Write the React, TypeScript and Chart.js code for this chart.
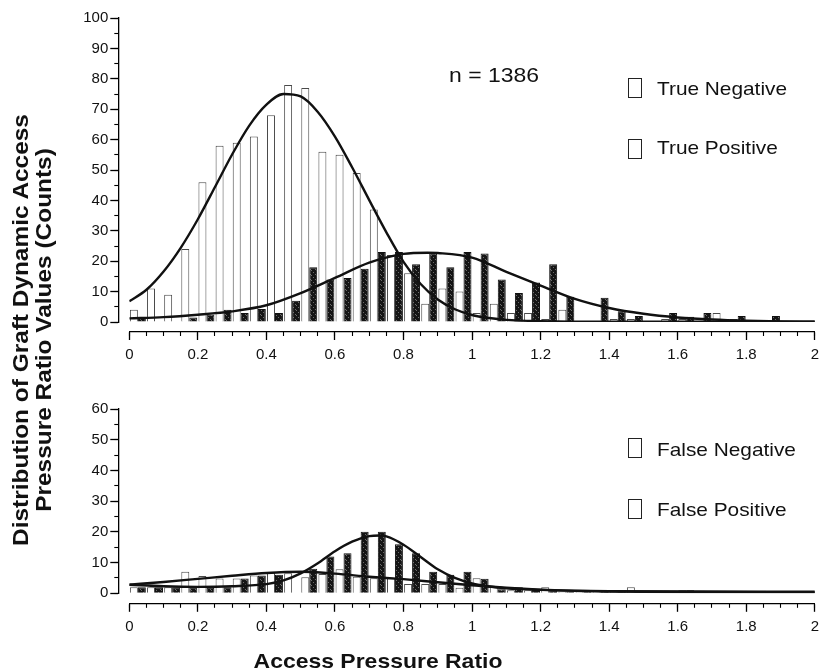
import React, { useEffect, useRef } from "react";
import { Chart, registerables } from "chart.js";

Chart.register(...registerables);

const FONT = '"Liberation Sans", Arial, Helvetica, sans-serif';

// ---- data ----
const binCenters = [
  0.025, 0.075, 0.125, 0.175, 0.225, 0.275, 0.325, 0.375, 0.425, 0.475,
  0.525, 0.575, 0.625, 0.675, 0.725, 0.775, 0.825, 0.875, 0.925, 0.975,
  1.025, 1.075, 1.125, 1.175, 1.225, 1.275, 1.325, 1.375, 1.425, 1.475,
  1.525, 1.575, 1.625, 1.675, 1.725, 1.775, 1.825, 1.875, 1.925, 1.975,
];

const trueNegative = [
  4, 11, 9, 24, 46, 58, 59, 61, 68, 78,
  77, 56, 55, 49, 37, 22, 16, 6, 11, 10,
  3, 6, 3, 3, 1, 4, 0, 0, 1, 1,
  0, 1, 1, 0, 3, 1, 0, 0, 0, 0,
];
const truePositive = [
  1.5, 0, 0, 1.5, 2.5, 4, 3, 4.3, 3, 7,
  18, 14, 14.5, 17.5, 23, 23, 19, 22.5, 18, 23,
  22.5, 14, 9.5, 13, 19, 8.3, 0, 8, 3.5, 2,
  0, 3, 1.7, 3, 0, 2, 0, 2, 0, 0,
];
const falseNegative = [
  2, 2, 2, 7, 5.6, 4.8, 4.8, 5.8, 6.8, 6.5,
  5.2, 6.3, 7.8, 5.4, 4.9, 4.9, 3, 3, 3, 1.8,
  4.9, 2.2, 1, 1, 2, 0.5, 0.5, 1, 0.5, 2,
  0.5, 0.5, 1, 0, 0, 0, 0.5, 0, 0, 0,
];
const falsePositive = [
  2, 2, 2, 2, 1.8, 2, 4.8, 5.8, 6, 0,
  8, 12, 13, 20, 20, 16, 13, 7, 6, 7,
  4.7, 1.3, 2, 1.5, 1, 0.5, 0.5, 0.5, 0.5, 0.5,
  0.5, 0.5, 1, 0.5, 0, 0, 0, 0, 0, 0,
];

// fitted curves
const tnFitX = [0, 0.05, 0.1, 0.15, 0.2, 0.25, 0.3, 0.35, 0.4, 0.45, 0.5, 0.55, 0.6, 0.65, 0.7, 0.75, 0.8, 0.85, 0.9, 0.95, 1.0, 1.05, 1.1, 1.2, 1.4, 2.0];
const tnFitY = [6.8, 10.6, 16.6, 24.4, 33.8, 44.4, 55.1, 64.6, 71.5, 75, 74.2, 69.1, 61.0, 50.9, 40.1, 29.5, 19.8, 12.5, 7.4, 4.2, 2.3, 1.3, 0.7, 0.3, 0.1, 0.1];
const tpFitX = [0, 0.1, 0.2, 0.3, 0.4, 0.5, 0.6, 0.7, 0.8, 0.87, 0.9, 1.0, 1.1, 1.2, 1.3, 1.4, 1.5, 1.6, 1.7, 1.8, 1.9, 2.0];
const tpFitY = [1.2, 1.6, 2.4, 3.5, 5.5, 9.5, 14.5, 19.5, 22.4, 22.8, 22.7, 21.2, 16.5, 12, 7.6, 4.6, 2.7, 1.5, 0.8, 0.4, 0.2, 0.1];
const fnFitX = [0, 0.1, 0.2, 0.3, 0.4, 0.5, 0.6, 0.7, 0.8, 0.9, 1.0, 1.1, 1.2, 1.3, 1.4, 1.6, 2.0];
const fnFitY = [2.8, 3.7, 4.7, 5.7, 6.6, 7.0, 6.4, 5.4, 4.6, 3.6, 2.6, 1.8, 1.2, 0.8, 0.6, 0.4, 0.3];
const fpFitX = [0, 0.1, 0.2, 0.3, 0.4, 0.45, 0.5, 0.55, 0.6, 0.65, 0.7, 0.73, 0.75, 0.8, 0.85, 0.9, 0.95, 1.0, 1.05, 1.1, 1.2, 1.4, 2.0];
const fpFitY = [2.8, 2.3, 2.1, 2.3, 3.0, 4.2, 6.5, 9.8, 13.7, 16.8, 18.6, 18.8, 18.5, 15.8, 11.8, 7.8, 5, 3.2, 2.2, 1.6, 1.1, 0.7, 0.5];

const xTickValues = [0, 0.2, 0.4, 0.6, 0.8, 1, 1.2, 1.4, 1.6, 1.8, 2];
const xTickLabels = ["0", "0.2", "0.4", "0.6", "0.8", "1", "1.2", "1.4", "1.6", "1.8", "2"];
const topYTicks = [0, 10, 20, 30, 40, 50, 60, 70, 80, 90, 100];
const bottomYTicks = [0, 10, 20, 30, 40, 50, 60];

const legendTop = ["True Negative", "True Positive"];
const legendBottom = ["False Negative", "False Positive"];

function minorTicks(max: number, step: number) {
  const out: number[] = [];
  const n = Math.round(max / step);
  for (let i = 0; i <= n; i++) out.push(+(i * step).toFixed(4));
  return out;
}

function makePattern(): CanvasPattern | string {
  const p = document.createElement("canvas");
  p.width = 5;
  p.height = 5;
  const g = p.getContext("2d");
  if (!g) return "#1a1a1a";
  g.fillStyle = "#151515";
  g.fillRect(0, 0, 5, 5);
  g.fillStyle = "#6e6e6e";
  g.fillRect(1, 0, 1, 1);
  g.fillRect(3, 2, 1, 1);
  g.fillRect(0, 4, 1, 1);
  const pat = g.createPattern(p, "repeat");
  return pat || "#1a1a1a";
}

function detachPlugin(gapY: number, gapX: number) {
  return {
    id: "detachAxes",
    afterLayout(chart: any) {
      const ca = chart.chartArea;
      Object.values(chart.scales).forEach((s: any) => {
        if (s.axis === "y") {
          const w = s.width;
          s.right = ca.left - gapY;
          s.left = s.right - w;
        } else {
          const h = s.height;
          s.top = ca.bottom + gapX;
          s.bottom = s.top + h;
        }
      });
    },
  };
}

interface Cfg {
  negVals: number[];
  posVals: number[];
  negFitX: number[];
  negFitY: number[];
  posFitX: number[];
  posFitY: number[];
  yMax: number;
  yTicks: number[];
  padding: { left: number; right: number; top: number; bottom: number };
  gapY: number;
  gapX: number;
}

function buildChart(canvas: HTMLCanvasElement, c: Cfg) {
  const toPts = (vals: number[]) =>
    binCenters.map((x, i) => ({ x, y: vals[i] > 0 ? vals[i] : null }));
  const fitPts = (xs: number[], ys: number[]) => xs.map((x, i) => ({ x, y: ys[i] }));
  const pattern = makePattern();
  const tickFont = { family: FONT, size: 15 };
  const lineDs = (data: any[]) => ({
    type: "line" as const,
    data,
    borderColor: "#111",
    borderWidth: 2.4,
    pointRadius: 0,
    tension: 0.4,
    cubicInterpolationMode: "monotone" as const,
    fill: false,
    order: 0,
    xAxisID: "x",
    yAxisID: "y",
  });
  const yMinorVals = minorTicks(c.yMax, 5);
  const xMinorVals = minorTicks(2, 0.05);

  return new Chart(canvas, {
    type: "bar",
    data: {
      datasets: [
        lineDs(fitPts(c.negFitX, c.negFitY)),
        lineDs(fitPts(c.posFitX, c.posFitY)),
        {
          type: "bar",
          data: toPts(c.negVals),
          backgroundColor: "#ffffff",
          borderColor: "#4a4a4a",
          borderWidth: 1,
          categoryPercentage: 0.93,
          barPercentage: 1,
          order: 1,
          xAxisID: "x",
          yAxisID: "y",
        },
        {
          type: "bar",
          data: toPts(c.posVals),
          backgroundColor: pattern as any,
          borderColor: "#111",
          borderWidth: 1,
          categoryPercentage: 0.93,
          barPercentage: 1,
          order: 1,
          xAxisID: "x",
          yAxisID: "y",
        },
      ] as any,
    },
    options: {
      animation: false,
      responsive: false,
      events: [],
      layout: { padding: c.padding },
      plugins: {
        legend: { display: false },
        tooltip: { enabled: false },
        title: { display: false },
      },
      scales: {
        x: {
          type: "linear",
          axis: "x",
          position: "bottom",
          min: 0,
          max: 2,
          offset: false,
          grid: { offset: false, drawOnChartArea: false, drawTicks: true, tickLength: 8, color: "#000", tickWidth: 1.3 },
          border: { display: true, color: "#000", width: 1.3 },
          ticks: {
            autoSkip: false,
            maxRotation: 0,
            minRotation: 0,
            padding: 6,
            color: "#111",
            font: tickFont,
            callback: (_v: any, i: number) => xTickLabels[i] ?? "",
          },
          afterBuildTicks: (s: any) => {
            s.ticks = xTickValues.map((v) => ({ value: v }));
          },
          afterFit: (s: any) => {
            s.height = 30;
          },
        },
        xMinor: {
          type: "linear",
          axis: "x",
          position: "bottom",
          min: 0,
          max: 2,
          offset: false,
          grid: { offset: false, drawOnChartArea: false, drawTicks: true, tickLength: 4, color: "#000", tickWidth: 1.1 },
          border: { display: false },
          ticks: { display: false },
          afterBuildTicks: (s: any) => {
            s.ticks = xMinorVals.map((v) => ({ value: v }));
          },
          afterFit: (s: any) => {
            s.height = 0;
          },
        },
        y: {
          type: "linear",
          axis: "y",
          position: "left",
          min: 0,
          max: c.yMax,
          grid: { drawOnChartArea: false, drawTicks: true, tickLength: 8, color: "#000", tickWidth: 1.3 },
          border: { display: true, color: "#000", width: 1.3 },
          ticks: {
            padding: 2,
            color: "#111",
            font: tickFont,
            callback: (v: any) => String(v),
          },
          afterBuildTicks: (s: any) => {
            s.ticks = c.yTicks.map((v) => ({ value: v }));
          },
          afterFit: (s: any) => {
            s.width = 40;
          },
        },
        yMinor: {
          type: "linear",
          axis: "y",
          position: "left",
          min: 0,
          max: c.yMax,
          grid: { drawOnChartArea: false, drawTicks: true, tickLength: 4, color: "#000", tickWidth: 1.1 },
          border: { display: false },
          ticks: { display: false },
          afterBuildTicks: (s: any) => {
            s.ticks = yMinorVals.map((v) => ({ value: v }));
          },
          afterFit: (s: any) => {
            s.width = 0;
          },
        },
      } as any,
    },
    plugins: [detachPlugin(c.gapY, c.gapX)],
  });
}

const SX = "scaleX(1.12)";

function Text(props: { left: number; top: number; size: number; bold?: boolean; children: React.ReactNode }) {
  return (
    <div
      style={{
        position: "absolute",
        left: props.left,
        top: props.top,
        fontFamily: FONT,
        fontSize: props.size,
        fontWeight: props.bold ? 700 : 400,
        lineHeight: `${props.size}px`,
        whiteSpace: "nowrap",
        transform: SX,
        transformOrigin: "left center",
        color: "#111",
      }}
    >
      {props.children}
    </div>
  );
}

function Box(props: { left: number; top: number }) {
  return (
    <div
      style={{
        position: "absolute",
        left: props.left,
        top: props.top,
        width: 14,
        height: 20,
        boxSizing: "border-box",
        border: "1.3px solid #222",
        background: "#fff",
      }}
    />
  );
}

export default function App() {
  const topRef = useRef<HTMLCanvasElement>(null);
  const botRef = useRef<HTMLCanvasElement>(null);

  useEffect(() => {
    const c1 = buildChart(topRef.current!, {
      negVals: trueNegative,
      posVals: truePositive,
      negFitX: tnFitX,
      negFitY: tnFitY,
      posFitX: tpFitX,
      posFitY: tpFitY,
      yMax: 100,
      yTicks: topYTicks,
      padding: { left: 89.3, right: 7.7, top: 18, bottom: 18 },
      gapY: 11,
      gapX: 10,
    });
    const c2 = buildChart(botRef.current!, {
      negVals: falseNegative,
      posVals: falsePositive,
      negFitX: fnFitX,
      negFitY: fnFitY,
      posFitX: fpFitX,
      posFitY: fpFitY,
      yMax: 60,
      yTicks: bottomYTicks,
      padding: { left: 89.3, right: 7.7, top: 39, bottom: 47.7 },
      gapY: 11,
      gapX: 10.5,
    });
    return () => {
      c1.destroy();
      c2.destroy();
    };
  }, []);

  return (
    <div
      style={{
        position: "fixed",
        left: 0,
        top: 0,
        width: 825,
        height: 671,
        background: "#fff",
        overflow: "hidden",
      }}
    >
      <canvas
        ref={topRef}
        width={825}
        height={370}
        style={{ position: "absolute", left: 0, top: 0, width: 825, height: 370 }}
      />
      <canvas
        ref={botRef}
        width={825}
        height={301}
        style={{ position: "absolute", left: 0, top: 370, width: 825, height: 301 }}
      />

      {/* y axis title, shared by both panels */}
      <div
        style={{
          position: "absolute",
          left: 31.5 - 300,
          top: 330 - 23,
          width: 600,
          height: 46,
          transform: "rotate(-90deg) scaleX(1.12)",
          transformOrigin: "center center",
          textAlign: "center",
          fontFamily: FONT,
          fontWeight: 700,
          fontSize: 21.8,
          lineHeight: "23px",
          color: "#111",
          whiteSpace: "nowrap",
        }}
      >
        <div>Distribution of Graft Dynamic Access</div>
        <div>Pressure Ratio Values (Counts)</div>
      </div>

      {/* x axis title */}
      <div
        style={{
          position: "absolute",
          left: 378 - 200,
          top: 661 - 10.25,
          width: 400,
          textAlign: "center",
          fontFamily: FONT,
          fontWeight: 700,
          fontSize: 20.5,
          lineHeight: "20.5px",
          transform: SX,
          transformOrigin: "center center",
          color: "#111",
          whiteSpace: "nowrap",
        }}
      >
        Access Pressure Ratio
      </div>

      <Text left={449} top={65} size={20.5}>n = 1386</Text>

      <Box left={628} top={78} />
      <Text left={657} top={80} size={18.6}>{legendTop[0]}</Text>
      <Box left={628} top={139} />
      <Text left={657} top={138.7} size={18.6}>{legendTop[1]}</Text>

      <Box left={628} top={438} />
      <Text left={657} top={440.7} size={18.6}>{legendBottom[0]}</Text>
      <Box left={628} top={499} />
      <Text left={657} top={500.7} size={18.6}>{legendBottom[1]}</Text>
    </div>
  );
}
